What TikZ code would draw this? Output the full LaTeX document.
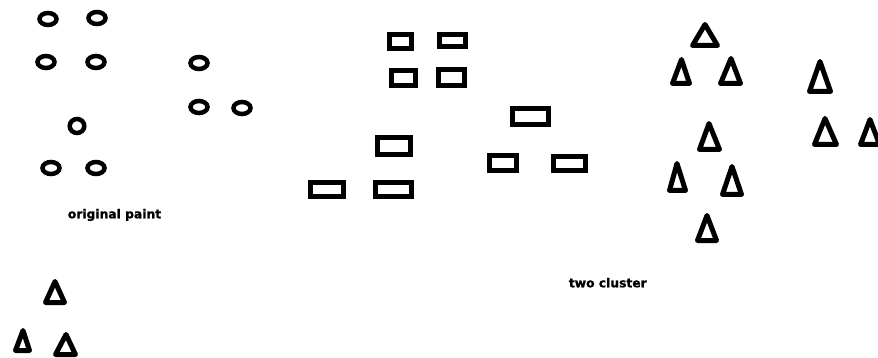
\documentclass[tikz,border=0pt]{standalone}
\usepackage{fontspec}
\newfontfamily\lblfont{DejaVu Sans Bold}[FakeBold=1.2]
\tikzset{
  ring/.style={draw=black, line width=4.5pt},
  box/.style={draw=black, line width=5pt},
  tri/.style={draw=black, line width=5pt, line join=round},
  lbl/.style={anchor=base, inner sep=0pt, font=\lblfont\fontsize{12.3}{14}\selectfont}
}
\newcommand{\mytri}[5]{% apex x, apex y, base y, left x, right x (outer)
  \draw[tri] (#1,#2+2.5) -- (#5-2.5,#3-2.5) -- (#4+2.5,#3-2.5) -- cycle;}
\newcommand{\mybox}[4]{\draw[box] (#1+2.5,#2+2.5) rectangle (#3-2.5,#4-2.5);}
\begin{document}
\begin{tikzpicture}[x=1pt,y=-1pt]
\useasboundingbox (0,0) rectangle (878,358);
% circles
\foreach \cx/\cy in {48/19, 97/18, 46/62, 96/62, 199/63, 199/107, 242/108, 51/168, 96/168}
  \draw[ring] (\cx,\cy) ellipse [x radius=8.5pt, y radius=6pt];
\draw[ring] (77,126) ellipse [x radius=7.3pt, y radius=7pt];
% rectangles
\mybox{387}{32}{414}{51}
\mybox{437}{32}{468}{49}
\mybox{389}{68}{418}{88}
\mybox{436}{67}{467}{88}
\mybox{510}{106}{551}{127}
\mybox{375}{135}{413}{157}
\mybox{487}{153}{519}{173}
\mybox{551}{154}{588}{173}
\mybox{308}{180}{346}{199}
\mybox{373}{180}{414}{199}
% triangles
\mytri{705}{22}{48}{690}{720}
\mytri{681.5}{57}{86}{670}{692}
\mytri{731}{56}{86}{718}{743}
\mytri{709}{121}{152}{697}{722}
\mytri{677}{161}{193}{667}{688}
\mytri{732}{164}{197}{720}{744}
\mytri{707}{213}{243}{695}{719}
\mytri{820}{59}{94}{807}{833}
\mytri{825}{116}{147}{812}{839}
\mytri{870}{117}{147}{858}{882}
\mytri{55}{279}{305}{43}{67}
\mytri{23}{328}{353}{13}{32}
\mytri{66}{332}{357}{53}{78}
% labels
\node[lbl] (orig) at (114.5,218.3) {original paint};
\node[lbl] (two) at (607.8,287.3) {two cluster};
\end{tikzpicture}
\end{document}
